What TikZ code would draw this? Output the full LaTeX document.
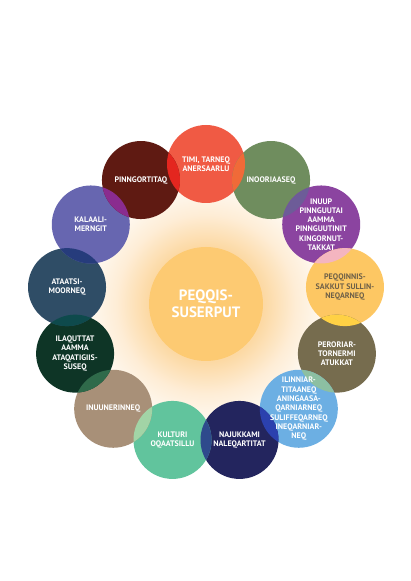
\documentclass[tikz,border=0pt]{standalone}
\usepackage{fontspec}
\setmainfont{PT Sans}
\usetikzlibrary{calc}
\definecolor{k1}{HTML}{F05A44}
\definecolor{k2}{HTML}{6F8D5E}
\definecolor{k3}{HTML}{8B44A0}
\definecolor{k4}{HTML}{FDC763}
\definecolor{k5}{HTML}{766C4E}
\definecolor{k6}{HTML}{6CAFE3}
\definecolor{k7}{HTML}{23255E}
\definecolor{k8}{HTML}{61C49D}
\definecolor{k9}{HTML}{A89078}
\definecolor{k10}{HTML}{0E3526}
\definecolor{k11}{HTML}{2F4D66}
\definecolor{k12}{HTML}{6766B0}
\definecolor{k13}{HTML}{5F1A12}
\definecolor{o1}{HTML}{F06A38}
\definecolor{o2}{HTML}{6D5C98}
\definecolor{o3}{HTML}{F4B5C0}
\definecolor{o4}{HTML}{FFD145}
\definecolor{o5}{HTML}{8CBFA2}
\definecolor{o6}{HTML}{2B41AE}
\definecolor{o7}{HTML}{2E4A8C}
\definecolor{o8}{HTML}{A2D4A6}
\definecolor{o9}{HTML}{2F6A4A}
\definecolor{o10}{HTML}{0E4A4C}
\definecolor{o11}{HTML}{263C7C}
\definecolor{o12}{HTML}{8A2C8F}
\definecolor{o13}{HTML}{E4261F}
\definecolor{centerc}{HTML}{FDCA72}
\definecolor{glowA}{HTML}{FCD9A4}
\definecolor{glowB}{HTML}{FEEDD6}
\definecolor{darktext}{HTML}{6E6048}
\pgfdeclareradialshading{glow}{\pgfpoint{0bp}{0bp}}{color(0bp)=(glowA); color(11bp)=(glowA); color(17bp)=(glowB); color(25bp)=(white); color(50bp)=(white)}
\tikzset{
  lbl/.style={font=\fontsize{8}{9.3}\selectfont\bfseries, align=center, text=white, inner sep=0pt},
  ctr/.style={font=\fontsize{15}{16.5}\selectfont\bfseries, align=center, text=white, inner sep=0pt},
}
\begin{document}
\begin{tikzpicture}[x=1pt,y=1pt]
\useasboundingbox (0,0) rectangle (411,581);
\coordinate (C) at (206,277);
% glow
\shade[shading=glow] (C) circle (132);
\fill[centerc] (C) circle (57);
% positions
\foreach \i in {1,...,13} {
  \coordinate (p\i) at ($(C)+({90-27.6923*(\i-1)}:140)$);
}
% circles
\foreach \i in {1,...,13} {
  \fill[k\i] (p\i) circle (39);
}
% overlaps
\foreach \i/\j in {1/2,2/3,3/4,4/5,5/6,6/7,7/8,8/9,9/10,10/11,11/12,12/13,13/1} {
  \begin{scope}
    \clip (p\i) circle (39);
    \fill[o\i] (p\j) circle (39);
  \end{scope}
}
% labels
\node[ctr] (tc) at (C) {PEQQIS-\\SUSERPUT};
\node[lbl] (t1) at (p1) {TIMI, TARNEQ\\ANERSAARLU};
\node[lbl] (t2) at (p2) {INOORIAASEQ};
\node[lbl] (t3) at (p3) {INUUP\\PINNGUUTAI\\AAMMA\\PINNGUUTINIT\\KINGORNUT-\\TAKKAT};
\node[lbl, text=darktext] (t4) at (p4) {PEQQINNIS-\\SAKKUT SULLIN-\\NEQARNEQ};
\node[lbl] (t5) at (p5) {PERORIAR-\\TORNERMI\\ATUKKAT};
\node[lbl] (t6) at (p6) {ILINNIAR-\\TITAANEQ\\ANINGAASA-\\QARNIARNEQ\\SULIFFEQARNEQ\\INEQARNIAR-\\NEQ};
\node[lbl] (t7) at (p7) {NAJUKKAMI\\NALEQARTITAT};
\node[lbl] (t8) at (p8) {KULTURI\\OQAATSILLU};
\node[lbl] (t9) at (p9) {INUUNERINNEQ};
\node[lbl] (t10) at (p10) {ILAQUTTAT\\AAMMA\\ATAQATIGIIS-\\SUSEQ};
\node[lbl] (t11) at (p11) {ATAATSI-\\MOORNEQ};
\node[lbl] (t12) at (p12) {KALAALI-\\MERNGIT};
\node[lbl] (t13) at (p13) {PINNGORTITAQ};
\end{tikzpicture}
\end{document}
